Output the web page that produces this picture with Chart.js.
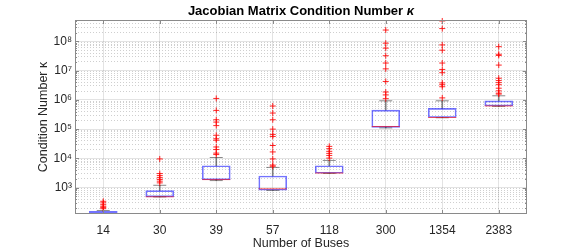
<!DOCTYPE html>
<html>
<head>
<meta charset="utf-8">
<script src="https://cdn.jsdelivr.net/npm/chart.js@4.4.1/dist/chart.umd.min.js"></script>
<style>
  html, body { margin: 0; padding: 0; background: #fff; }
  #wrap { width: 581px; height: 252px; }
</style>
</head>
<body>
<div id="wrap"><canvas id="chart" width="581" height="252"></canvas></div>
<script>
// box plot statistics (log scale)
const buses = ['14', '30', '39', '57', '118', '300', '1354', '2383'];
const whiskerLow = [126, 480, 1740, 800, 3050, 1.1e5, 2.45e5, 6.0e5];
const q1 = [126, 480, 1860, 810, 3090, 1.15e5, 2.5e5, 6.2e5];
const median = [129, 485, 1880, 910, 3150, 1.23e5, 2.5e5, 6.2e5];
const q3 = [155, 790, 5600, 2500, 5600, 4.47e5, 5.1e5, 9.3e5];
const whiskerHigh = [165, 1200, 10700, 4900, 8500, 9.3e5, 9.3e5, 1.38e6];
const outliers = [
  [190, 210, 230, 260, 300, 340],
  [1450, 1660, 1900, 2190, 2570, 3020, 9550],
  [13500, 15100, 20000, 24500, 41700, 46800, 61700, 1.32e5, 1.74e5, 2.09e5, 4.37e5, 1.12e6],
  [5370, 5890, 9550, 16600, 27500, 56200, 66100, 1.0e5, 2.09e5, 3.55e5, 6.17e5],
  [10200, 12600, 14800, 17400, 21400, 25700],
  [1.1e6, 1.48e6, 1.86e6, 4.27e6, 1.15e7, 1.82e7, 3.24e7, 5.89e7, 8.71e7, 2.45e8],
  [1.17e6, 2.82e6, 3.31e6, 3.8e6, 8.51e6, 1.1e7, 1.82e7, 5.01e7, 7.59e7, 2.75e8, 5.0e8],
  [1.58e6, 1.7e6, 2.04e6, 2.51e6, 3.31e6, 3.89e6, 4.57e6, 5.5e6, 1.55e7, 3.31e7, 3.63e7, 6.61e7]
];
const yMin = 125;
const yMax = 5.4e8;
const yTickValues = [1e3, 1e4, 1e5, 1e6, 1e7, 1e8];
const yTickLabels = ['10³', '10⁴', '10⁵', '10⁶', '10⁷', '10⁸'];

const FONT = '"Liberation Sans", Arial, Helvetica, sans-serif';
const TEXT = '#262626';
const GRID_MAJOR = 'rgba(38,38,38,0.13)';
const GRID_MINOR = 'rgba(38,38,38,0.22)';
const AXIS = '#8a8a8a';

Chart.defaults.font.family = FONT;
Chart.defaults.color = TEXT;

function isDecade(v) {
  return yTickValues.some((d) => Math.abs(v - d) / d < 1e-6);
}

function logTicks(scale) {
  const ticks = [];
  for (let e = 2; e <= 8; e++) {
    for (let k = 1; k <= 9; k++) {
      const v = k * Math.pow(10, e);
      if (v > yMin && v < yMax) ticks.push({ value: v });
    }
  }
  scale.ticks = ticks;
}

const pts = (arr) => buses.map((b, i) => ({ x: b, y: arr[i] }));
const outlierPts = [];
outliers.forEach((list, i) => list.forEach((v) => outlierPts.push({ x: buses[i], y: v })));

// axes box, inward ticks and the title (with italic kappa)
const frame = {
  id: 'frame',
  afterDraw(chart) {
    const { ctx, chartArea: a, scales } = chart;
    ctx.save();
    ctx.strokeStyle = AXIS;
    ctx.lineWidth = 1;
    ctx.strokeRect(a.left + 0.5, a.top + 0.5, a.right - a.left - 1, a.bottom - a.top - 1);
    ctx.beginPath();
    scales.y.ticks.forEach((t) => {
      const py = Math.round(scales.y.getPixelForValue(t.value)) + 0.5;
      const len = isDecade(t.value) ? 4 : 2;
      ctx.moveTo(a.left, py); ctx.lineTo(a.left + len, py);
      ctx.moveTo(a.right, py); ctx.lineTo(a.right - len, py);
    });
    buses.forEach((b, i) => {
      const px = Math.round(scales.x.getPixelForValue(i)) + 0.5;
      ctx.moveTo(px, a.bottom); ctx.lineTo(px, a.bottom - 4);
      ctx.moveTo(px, a.top); ctx.lineTo(px, a.top + 4);
    });
    ctx.stroke();

    const main = 'Jacobian Matrix Condition Number ';
    const kappa = 'κ';
    ctx.fillStyle = '#000';
    ctx.textBaseline = 'middle';
    ctx.font = 'bold 13px ' + FONT;
    const w1 = ctx.measureText(main).width;
    ctx.font = 'italic bold 13px ' + FONT;
    const w2 = ctx.measureText(kappa).width;
    const x0 = (a.left + a.right) / 2 - (w1 + w2) / 2;
    ctx.font = 'bold 13px ' + FONT;
    ctx.fillText(main, x0, 11.5);
    ctx.font = 'italic bold 13px ' + FONT;
    ctx.fillText(kappa, x0 + w1, 11.5);
    ctx.restore();
  }
};

new Chart(document.getElementById('chart'), {
  type: 'bar',
  data: {
    labels: buses,
    datasets: [
      {
        type: 'line', data: outlierPts, showLine: false,
        pointStyle: 'cross', pointRadius: 3, pointBorderWidth: 1,
        borderColor: 'rgba(255,0,0,0.85)', clip: false
      },
      {
        type: 'line', data: pts(median), showLine: false,
        pointStyle: 'line', pointRadius: 14, pointBorderWidth: 1,
        borderColor: 'rgba(255,0,0,0.6)'
      },
      {
        type: 'line', data: pts(whiskerHigh).concat(pts(whiskerLow)), showLine: false,
        pointStyle: 'line', pointRadius: 6.5, pointBorderWidth: 1,
        borderColor: 'rgba(60,60,60,0.6)'
      },
      {
        data: buses.map((b, i) => [q1[i], q3[i]]),
        grouped: false, barThickness: 28, borderSkipped: false,
        borderWidth: 1, borderColor: 'rgba(0,0,255,0.55)', backgroundColor: 'rgba(0,0,0,0)'
      },
      {
        data: buses.map((b, i) => [q3[i], whiskerHigh[i]]),
        grouped: false, barThickness: 1, borderWidth: 0,
        backgroundColor: 'rgba(60,60,60,0.6)'
      },
      {
        data: buses.map((b, i) => [whiskerLow[i], q1[i]]),
        grouped: false, barThickness: 1, borderWidth: 0,
        backgroundColor: 'rgba(60,60,60,0.6)'
      }
    ]
  },
  options: {
    responsive: false,
    animation: false,
    layout: { padding: { top: 20, right: 54, left: 0, bottom: 0 } },
    plugins: { legend: { display: false }, tooltip: { enabled: false }, title: { display: false } },
    scales: {
      x: {
        type: 'category',
        offset: true,
        grid: { offset: false, color: GRID_MAJOR, drawTicks: false },
        border: { display: false },
        ticks: { padding: 9, font: { size: 12 }, color: TEXT, maxRotation: 0 },
        title: { display: true, text: 'Number of Buses', font: { size: 12.5 }, color: TEXT, padding: { top: 0, bottom: 1 } },
        afterFit: (s) => { s.height = 38; }
      },
      y: {
        type: 'logarithmic',
        position: 'left',
        min: yMin,
        max: yMax,
        afterBuildTicks: logTicks,
        grid: {
          drawTicks: false,
          color: (c) => (c.tick && isDecade(c.tick.value) ? GRID_MAJOR : 'rgba(0,0,0,0)')
        },
        border: { display: false },
        ticks: {
          padding: 3,
          font: { size: 12 },
          color: TEXT,
          autoSkip: false,
          callback: (v) => {
            const i = yTickValues.findIndex((d) => Math.abs(v - d) / d < 1e-6);
            return i >= 0 ? yTickLabels[i] : '';
          }
        },
        title: { display: true, text: 'Condition Number κ', font: { size: 12.5 }, color: TEXT, padding: { top: 36, bottom: 36 } },
        afterFit: (s) => { s.width = 75; }
      },
      yMinor: {
        type: 'logarithmic',
        position: 'right',
        min: yMin,
        max: yMax,
        afterBuildTicks: logTicks,
        grid: {
          drawTicks: false,
          color: (c) => (c.tick && !isDecade(c.tick.value) ? GRID_MINOR : 'rgba(0,0,0,0)')
        },
        border: { display: false, dash: [1, 2] },
        ticks: { display: false },
        afterFit: (s) => { s.width = 0; }
      }
    }
  },
  plugins: [frame]
});
</script>
</body>
</html>
